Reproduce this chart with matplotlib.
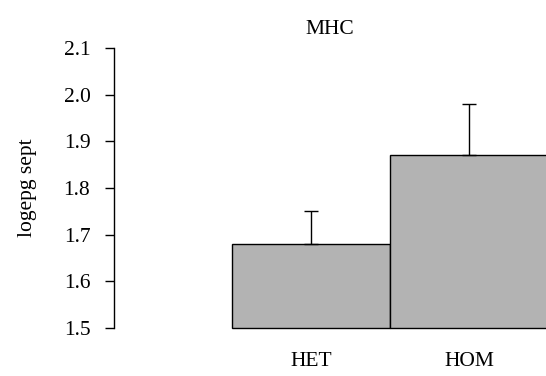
import matplotlib.pyplot as plt

plt.rcParams['font.family'] = ['Liberation Serif', 'DejaVu Serif']

# data
groups = ['HET', 'HOM']
means = [1.68, 1.87]
upper = [1.75, 1.98]
yticks = [1.5, 1.6, 1.7, 1.8, 1.9, 2.0, 2.1]

W, H = 546, 376
fig = plt.figure(figsize=(W / 100, H / 100), dpi=100)
# axes run a little past the right edge so the HOM bar is cut off, like the original
ax = fig.add_axes([114 / W, 48 / H, 436 / W, 280 / H])

x = [0.5, 1.5]
base = 1.5
heights = [m - base for m in means]
ax.bar(x, heights, width=1.0, bottom=base, color='#b3b3b3',
       edgecolor='black', linewidth=1.0, clip_on=False)
err = [u - m for u, m in zip(upper, means)]
ax.errorbar(x, means, yerr=[[0, 0], err], fmt='none', ecolor='black',
            elinewidth=1.0, capsize=4.7, capthick=1.0, clip_on=False)

ax.set_xlim((114 - 232) / 158, (550 - 232) / 158)
ax.set_ylim(1.5, 2.1)
ax.set_yticks(yticks)
ax.set_yticklabels(['%.1f' % t for t in yticks])
ax.set_xticks(x)
ax.set_xticklabels(groups)

for s in ['top', 'right', 'bottom']:
    ax.spines[s].set_visible(False)
ax.spines['left'].set_linewidth(1.0)
ax.tick_params(axis='y', length=6.5, width=1.0, pad=10.5, labelsize=15.5)
ax.tick_params(axis='x', length=0, pad=17, labelsize=15.5)

ax.set_ylabel('logepg sept', fontsize=15.5, labelpad=19)
ax.set_title('MHC', fontsize=15.5, pad=10, x=(330 - 114) / 436)

fig.savefig('out.png', dpi=100)
